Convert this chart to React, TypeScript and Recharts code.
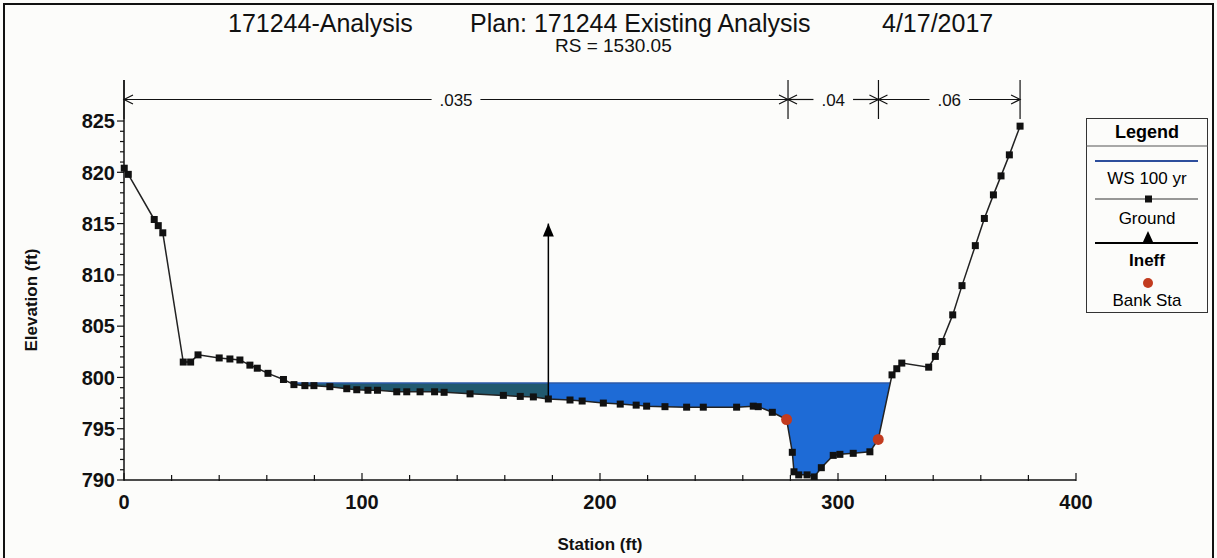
import React from 'react';
import { ComposedChart, Line, Area, Scatter, XAxis, YAxis, ReferenceLine } from 'recharts';

// ground profile (station ft, elevation ft)
const groundStation = [
  0.1, 1.8, 12.7, 14.4, 16.3, 24.9, 28.0, 31.1, 40.0, 44.5, 48.7, 52.9, 56.0, 60.5, 67.0,
  71.4, 76.0, 79.8, 86.5, 93.6, 97.8, 102.5, 106.5, 114.6, 118.8, 124.4, 130.5, 134.5,
  145.4, 159.4, 166.5, 172.0, 178.3, 187.4, 192.5, 201.4, 208.5, 215.2, 219.6, 227.3,
  236.4, 243.4, 257.4, 264.4, 266.5, 272.4, 278.4, 280.8, 281.5, 283.5, 287.0, 290.0,
  293.0, 298.0, 300.8, 306.4, 313.4, 316.9, 322.7, 324.7, 326.8, 338.1, 340.9, 343.7,
  348.2, 352.1, 357.7, 361.5, 365.3, 368.5, 372.0, 376.5,
];
const groundElev = [
  820.4, 819.8, 815.4, 814.8, 814.1, 801.5, 801.5, 802.2, 801.9, 801.8, 801.7, 801.2, 800.9, 800.4, 799.8,
  799.3, 799.2, 799.2, 799.1, 798.9, 798.8, 798.75, 798.75, 798.6, 798.6, 798.6, 798.6, 798.55,
  798.4, 798.25, 798.15, 798.1, 797.9, 797.8, 797.7, 797.5, 797.4, 797.3, 797.2, 797.15,
  797.1, 797.1, 797.1, 797.2, 797.15, 796.6, 795.9, 792.7, 790.8, 790.5, 790.5, 790.3,
  791.2, 792.4, 792.5, 792.6, 792.75, 793.96, 800.25, 800.85, 801.4, 801.0, 802.05, 803.5,
  806.1, 808.95, 812.85, 815.5, 817.8, 819.65, 821.7, 824.5,
];

const wsElev = 799.45; // WS 100 yr
const ineffStation = 178.3;
const ineffTop = 815;
const bankStation = [278.4, 316.9];
const bankElev = [795.9, 793.96];

const nBounds = [0, 279, 317, 376.5];
const nValues = ['.035', '.04', '.06'];
const nArrowElev = 827.1;
const nTickLow = 825.2;
const yTop = 829;

const xTicks = [0, 20, 40, 60, 80, 100, 120, 140, 160, 180, 200, 220, 240, 260, 280, 300, 320, 340, 360, 380, 400];
const yTicks = [790, 791, 792, 793, 794, 795, 796, 797, 798, 799, 800, 801, 802, 803, 804, 805, 806, 807, 808, 809, 810,
  811, 812, 813, 814, 815, 816, 817, 818, 819, 820, 821, 822, 823, 824, 825];

const FONT = '"Liberation Sans", Arial, sans-serif';

const ground = groundStation.map((s, i) => ({ station: s, elev: groundElev[i] }));
const banks = bankStation.map((s, i) => ({ station: s, elev: bankElev[i] }));
const ineff = [
  { station: ineffStation, elev: groundElev[groundStation.indexOf(ineffStation)] },
  { station: ineffStation, elev: ineffTop },
];

// wetted part of the section between lo and hi, as [ground, ws] bands
function wetted(lo: number, hi: number) {
  const pts: { station: number; band: number[] }[] = [];
  for (let i = 0; i < ground.length; i++) {
    const { station: s, elev: e } = ground[i];
    if (i > 0) {
      const { station: s0, elev: e0 } = ground[i - 1];
      if ((e0 - wsElev) * (e - wsElev) < 0) {
        const sc = s0 + ((wsElev - e0) / (e - e0)) * (s - s0);
        if (sc >= lo && sc <= hi) pts.push({ station: sc, band: [wsElev, wsElev] });
      }
    }
    if (e <= wsElev && s >= lo && s <= hi) pts.push({ station: s, band: [e, wsElev] });
  }
  return pts;
}
const waterIneff = wetted(0, ineffStation);
const waterEff = wetted(ineffStation, 400);
const wsLine = [
  { station: waterIneff[0].station, elev: wsElev },
  { station: waterEff[waterEff.length - 1].station, elev: wsElev },
];

const SquareDot = (p: any) => {
  const { cx, cy, index } = p;
  if (cx == null || cy == null) return <g key={index} />;
  return <rect key={index} x={cx - 3.5} y={cy - 3.5} width={7} height={7} fill="#111" />;
};

const TriDot = (p: any) => {
  const { cx, cy, index } = p;
  if (index !== 1) return <g key={index} />;
  return <polygon key={index} points={`${cx},${cy} ${cx - 5.5},${cy + 13} ${cx + 5.5},${cy + 13}`} fill="#000" />;
};

const BankDot = (p: any) => <circle cx={p.cx} cy={p.cy} r={5.5} fill="#c23b1f" />;

const XTick = (p: any) => {
  const { x, y, payload } = p;
  const major = payload.value % 100 === 0;
  return (
    <g>
      <line x1={x} x2={x} y1={y + 1} y2={y - (major ? 7 : 5)} stroke="#111" strokeWidth={1.2} />
      {major && (
        <text x={x} y={y + 29} textAnchor="middle" fontSize={20} fontWeight="bold" fill="#111" fontFamily={FONT}>
          {payload.value}
        </text>
      )}
    </g>
  );
};

const YTick = (p: any) => {
  const { x, y, payload } = p;
  const major = payload.value % 5 === 0;
  return (
    <g>
      <line x1={x - (major ? 7 : 4)} x2={x} y1={y} y2={y} stroke="#111" strokeWidth={1.2} />
      {major && (
        <text x={x - 9} y={y} dy="0.36em" textAnchor="end" fontSize={20} fontWeight="bold" fill="#111" fontFamily={FONT}>
          {payload.value}
        </text>
      )}
    </g>
  );
};

const YLabel = () => (
  <text
    x={31}
    y={300}
    transform="rotate(-90, 31, 300)"
    dy="0.36em"
    textAnchor="middle"
    fontSize={17}
    fontWeight="bold"
    fill="#111"
    fontFamily={FONT}
  >
    Elevation (ft)
  </text>
);

const nShape = (label: string) => (p: any) => {
  const { x1, y1, x2 } = p;
  const mid = (x1 + x2) / 2;
  const half = label.length * 4.6 + 6;
  const a = 9;
  const h = 4.5;
  return (
    <g stroke="#111" strokeWidth={1.2} fill="none">
      <line x1={x1} y1={y1} x2={mid - half} y2={y1} />
      <line x1={mid + half} y1={y1} x2={x2} y2={y1} />
      <polyline points={`${x1 + a},${y1 - h} ${x1},${y1} ${x1 + a},${y1 + h}`} />
      <polyline points={`${x2 - a},${y1 - h} ${x2},${y1} ${x2 - a},${y1 + h}`} />
      <text x={mid} y={y1} dy="0.36em" textAnchor="middle" stroke="none" fill="#111" fontSize={17} fontFamily={FONT}>
        {label}
      </text>
    </g>
  );
};

const Legend = () => (
  <svg width={123} height={196} style={{ position: 'absolute', left: 1086, top: 118 }}>
    <rect x={0.5} y={0.5} width={121} height={194} fill="#fcfcfa" stroke="#333" />
    <text x={61} y={14} dy="0.36em" textAnchor="middle" fontSize={18} fontWeight="bold" fontFamily={FONT}>Legend</text>
    <line x1={0} x2={122} y1={28} y2={28} stroke="#555" />
    <line x1={9} x2={112} y1={43} y2={43} stroke="#2d4e9c" strokeWidth={2} />
    <text x={61} y={60} dy="0.36em" textAnchor="middle" fontSize={17} fontFamily={FONT}>WS 100 yr</text>
    <line x1={9} x2={112} y1={81} y2={81} stroke="#333" strokeWidth={1.2} />
    <rect x={59} y={77.5} width={7} height={7} fill="#111" />
    <text x={61} y={100} dy="0.36em" textAnchor="middle" fontSize={17} fontFamily={FONT}>Ground</text>
    <line x1={9} x2={112} y1={125} y2={125} stroke="#000" strokeWidth={2} />
    <polygon points="62,113 56.5,125 67.5,125" fill="#000" />
    <text x={61} y={142} dy="0.36em" textAnchor="middle" fontSize={17} fontWeight="bold" fontFamily={FONT}>Ineff</text>
    <circle cx={62} cy={165} r={5} fill="#c23b1f" />
    <text x={61} y={182} dy="0.36em" textAnchor="middle" fontSize={17} fontFamily={FONT}>Bank Sta</text>
  </svg>
);

export default function App() {
  return (
    <div style={{ position: 'absolute', left: 0, top: 0, width: 1217, height: 558, background: '#fcfcfa', overflow: 'hidden', fontFamily: FONT }}>
      <div style={{ position: 'absolute', left: 3, top: 3, width: 1207, height: 600, border: '2.5px solid #111' }} />
      <div style={{ position: 'absolute', left: 0, top: 0 }}>
        <ComposedChart width={1217} height={558} margin={{ top: 80, right: 141, bottom: 8, left: 8 }}>
          <XAxis
            dataKey="station"
            type="number"
            domain={[0, 400]}
            ticks={xTicks}
            interval={0}
            tick={<XTick />}
            tickLine={false}
            tickSize={0}
            tickMargin={0}
            height={70}
            axisLine={{ stroke: '#111', strokeWidth: 1.5 }}
            label={{ value: 'Station (ft)', position: 'insideBottom', offset: 0, fontSize: 17, fontWeight: 'bold', fill: '#111', fontFamily: FONT }}
          />
          <YAxis
            type="number"
            domain={[790, yTop]}
            allowDataOverflow
            ticks={yTicks}
            interval={0}
            tick={<YTick />}
            tickLine={false}
            tickSize={0}
            tickMargin={0}
            width={116}
            axisLine={{ stroke: '#111', strokeWidth: 1.5 }}
            label={{ content: () => <YLabel /> }}
          />
          <Area data={waterIneff} dataKey="band" type="linear" stroke="none" fill="#21596f" fillOpacity={1} isAnimationActive={false} />
          <Area data={waterEff} dataKey="band" type="linear" stroke="none" fill="#1e6bd6" fillOpacity={1} isAnimationActive={false} />
          <Line data={wsLine} dataKey="elev" type="linear" stroke="#2d5aa8" strokeWidth={1.5} dot={false} isAnimationActive={false} />
          <Line data={ground} dataKey="elev" type="linear" stroke="#222" strokeWidth={1.5} dot={<SquareDot />} activeDot={false} isAnimationActive={false} />
          <Line data={ineff} dataKey="elev" type="linear" stroke="#000" strokeWidth={1.5} dot={<TriDot />} activeDot={false} isAnimationActive={false} />
          <Scatter data={banks} dataKey="elev" shape={<BankDot />} isAnimationActive={false} />
          {nValues.map((v, i) => (
            <ReferenceLine
              key={'n' + i}
              segment={[{ x: nBounds[i], y: nArrowElev }, { x: nBounds[i + 1], y: nArrowElev }]}
              shape={nShape(v)}
            />
          ))}
          {nBounds.map((b, i) => (
            <ReferenceLine key={'b' + i} segment={[{ x: b, y: nTickLow }, { x: b, y: yTop }]} stroke="#111" strokeWidth={1.2} />
          ))}
        </ComposedChart>
      </div>
      <div style={{ position: 'absolute', left: 0, top: 0, width: 1217, fontSize: 25, color: '#111', lineHeight: '28px' }}>
        <span style={{ position: 'absolute', left: 228, top: 9 }}>171244-Analysis</span>
        <span style={{ position: 'absolute', left: 470, top: 9 }}>Plan: 171244 Existing Analysis</span>
        <span style={{ position: 'absolute', left: 882, top: 9 }}>4/17/2017</span>
        <span style={{ position: 'absolute', left: 555, top: 35, fontSize: 19, lineHeight: '22px' }}>RS = 1530.05</span>
      </div>
      <Legend />
    </div>
  );
}
